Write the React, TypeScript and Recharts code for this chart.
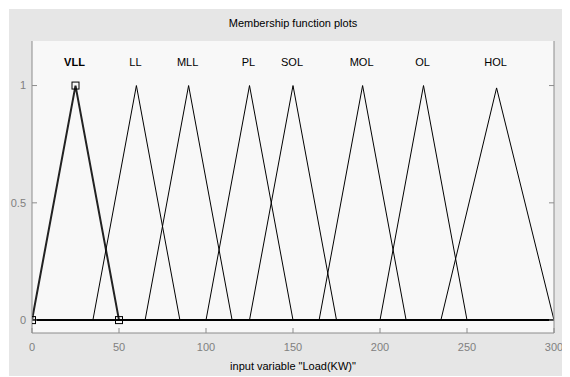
import React from "react";
import {
  ComposedChart,
  Line,
  Scatter,
  XAxis,
  YAxis,
  CartesianGrid,
} from "recharts";

// membership functions of input variable "Load(KW)" (triangles: left foot, peak, right foot)
const mfNames = ["VLL", "LL", "MLL", "PL", "SOL", "MOL", "OL", "HOL"];
const leftFeet = [0, 35, 65, 100, 125, 165, 200, 235];
const peaks = [25, 60, 90, 125, 150, 190, 225, 267];
const rightFeet = [50, 85, 115, 150, 175, 215, 250, 300];
const peakHeights = [1, 1, 1, 1, 1, 1, 1, 0.99];

const xRange = [0, 300];
const xTicks = [0, 50, 100, 150, 200, 250, 300];
const yTicks = [0, 0.5, 1];
const yTickLabels = ["0", "0.5", "1"];
const labelLevel = 1.1;

// handles of the selected function (VLL)
const handlePoints = [
  { x: 0, y: 0 },
  { x: 25, y: 1 },
  { x: 50, y: 0 },
];

const mfSeries = mfNames.map((name, i) => ({
  name,
  data: [
    { x: xRange[0], y: 0 },
    { x: leftFeet[i], y: 0 },
    { x: peaks[i], y: peakHeights[i] },
    { x: rightFeet[i], y: 0 },
    { x: xRange[1], y: 0 },
  ],
}));

const labelData = mfNames.map((name, i) => ({ x: peaks[i], y: labelLevel, name }));

const FONT = '"Liberation Sans", Arial, sans-serif';
const tickStyle = { fontSize: 11, fill: "#808080", fontFamily: FONT };
const frame = "#8c8c8c";
const yDomain: [number, number] = [-0.055, 1.19];

function HandleSquare(props: any) {
  const { cx, cy } = props;
  return <rect x={cx - 3.5} y={cy - 3.5} width={7} height={7} fill="none" stroke="#000" strokeWidth={1} />;
}

function MfLabel(props: any) {
  const { cx, cy, payload } = props;
  return (
    <text
      x={cx - 1}
      y={cy}
      textAnchor="middle"
      dominantBaseline="central"
      fontSize={11}
      fontFamily={FONT}
      fontWeight={payload.name === "VLL" ? "bold" : "normal"}
      fill="#000"
    >
      {payload.name}
    </text>
  );
}

export default function App() {
  return (
    <div style={{ position: "relative", left: 1, top: 1, width: 561, height: 368, background: "#e6e6e6" }}>
      <div
        style={{
          position: "absolute",
          left: 23,
          top: 9,
          width: 522,
          textAlign: "center",
          fontFamily: FONT,
          fontSize: 11,
          lineHeight: "11px",
          color: "#000",
        }}
      >
        Membership function plots
      </div>
      <ComposedChart width={561} height={368} margin={{ top: 32, right: 0, bottom: 0, left: 0 }}>
        <CartesianGrid fill="#f8f8f8" horizontal={false} vertical={false} />
        <XAxis
          dataKey="x"
          type="number"
          domain={xRange}
          ticks={xTicks}
          allowDataOverflow
          height={44}
          tickSize={-5}
          tickMargin={15}
          tick={tickStyle}
          stroke={frame}
          label={{
            value: 'input variable "Load(KW)"',
            position: "insideBottom",
            offset: 7,
            style: { fontSize: 11, fill: "#000", fontFamily: FONT },
          }}
        />
        <XAxis
          xAxisId="top"
          orientation="top"
          dataKey="x"
          type="number"
          domain={xRange}
          ticks={xTicks}
          height={0}
          tickSize={-5}
          tickFormatter={() => ""}
          stroke={frame}
        />
        <YAxis
          dataKey="y"
          type="number"
          domain={yDomain}
          ticks={yTicks}
          allowDataOverflow
          width={23}
          tickSize={-5}
          tickMargin={11}
          tick={tickStyle}
          tickFormatter={(v: number) => yTickLabels[yTicks.indexOf(v)] ?? String(v)}
          stroke={frame}
        />
        <YAxis
          yAxisId="right"
          orientation="right"
          type="number"
          domain={yDomain}
          ticks={yTicks}
          allowDataOverflow
          width={16}
          tickSize={-5}
          tickFormatter={() => ""}
          stroke={frame}
        />
        {mfSeries.map((s, i) => (
          <Line
            key={s.name}
            data={s.data}
            dataKey="y"
            type="linear"
            stroke={i === 0 ? "#222" : "#000"}
            strokeWidth={i === 0 ? 2 : 1}
            dot={false}
            activeDot={false}
            isAnimationActive={false}
          />
        ))}
        <Scatter data={handlePoints} dataKey="y" shape={HandleSquare} isAnimationActive={false} />
        <Scatter data={labelData} dataKey="y" shape={MfLabel} isAnimationActive={false} />
      </ComposedChart>
    </div>
  );
}
